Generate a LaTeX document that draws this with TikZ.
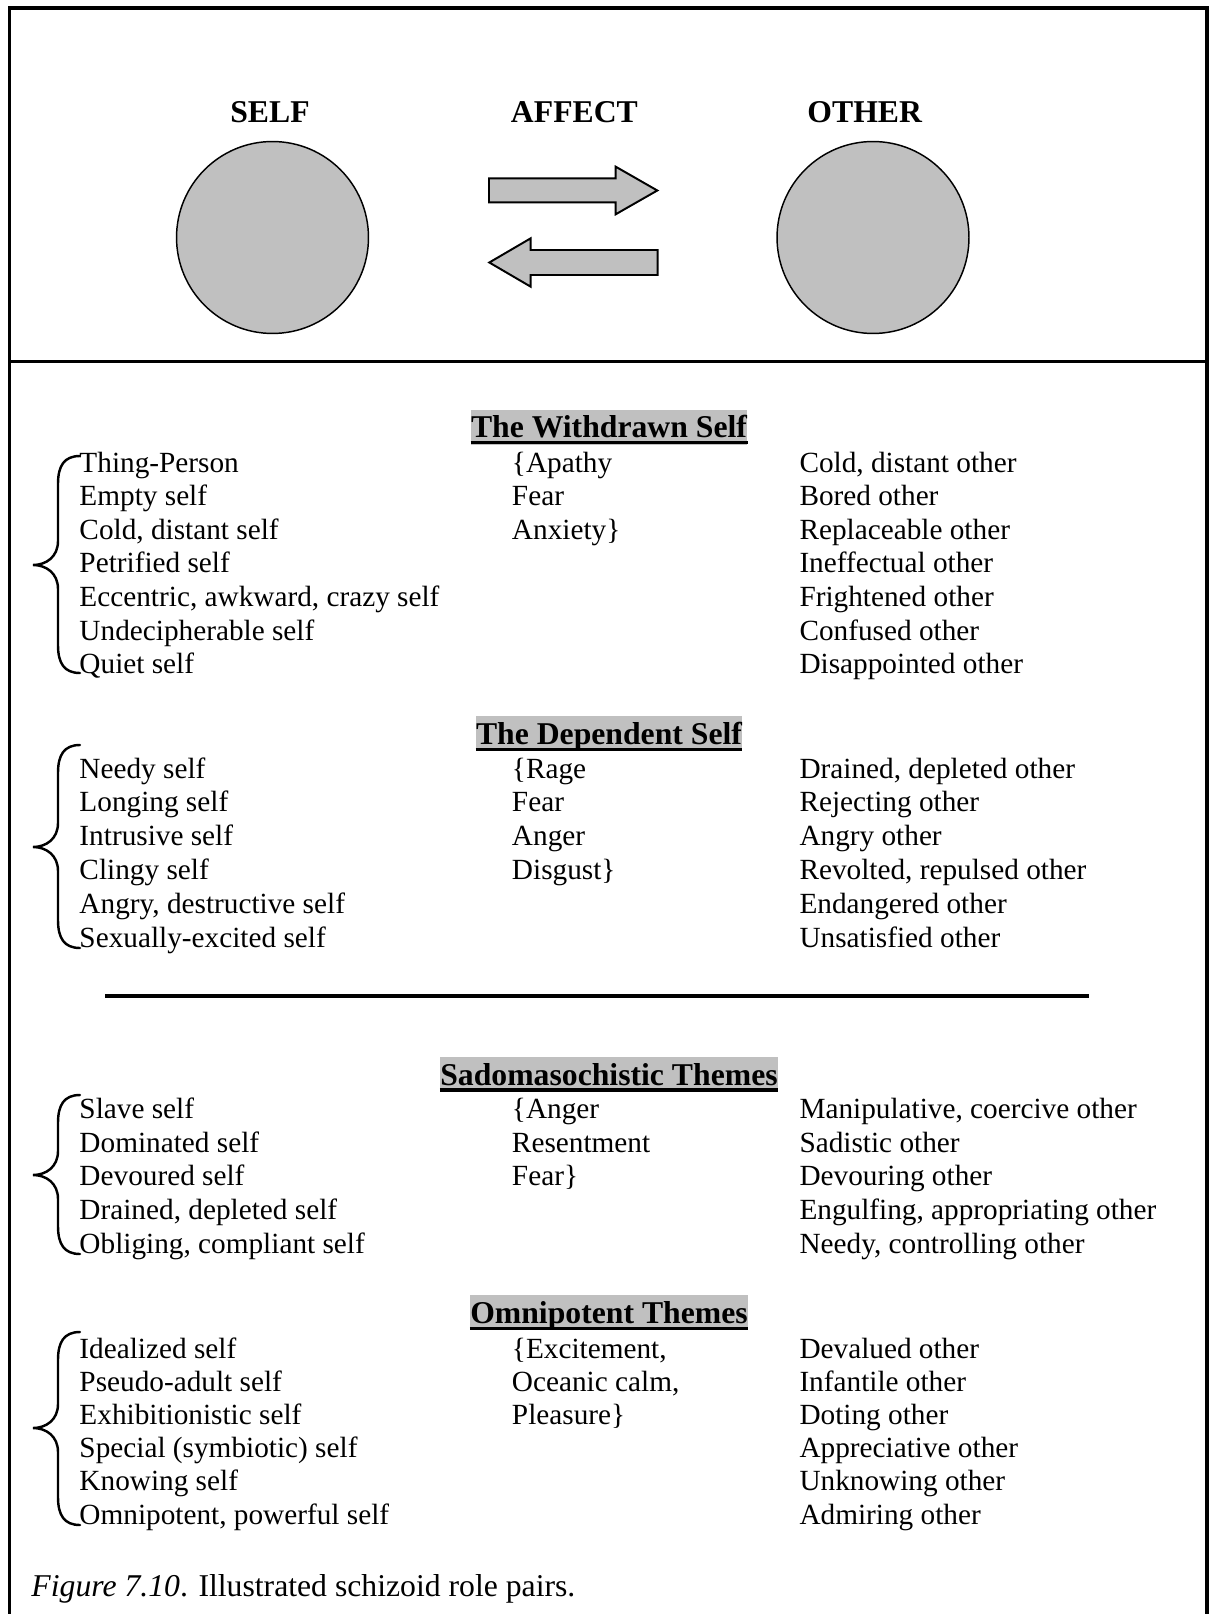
\documentclass[tikz,border=0pt]{standalone}
\usepackage{fontspec}
\setmainfont{Liberation Serif}
\definecolor{hlgray}{HTML}{C0C0C0}
\newcommand\drawcurly[3]{% top y, tip y, bottom y of a left curly brace
  \draw[curlyline] (80,#1) .. controls (64,#1) and (58,#1+10) .. (58,#1+28)
    -- (58,#2-24) .. controls (58,#2-8) and (46,#2) .. (33,#2)
    .. controls (46,#2) and (58,#2+8) .. (58,#2+24)
    -- (58,#3-28) .. controls (58,#3-10) and (64,#3) .. (80,#3);}
\begin{document}
\begin{tikzpicture}[x=0.41pt,y=-0.41pt,
  frame/.style={line width=1.25pt},
  ball/.style={circle, draw=black, line width=0.6pt, fill=hlgray, inner sep=0pt, minimum size=78.7pt},
  blockarrow/.style={draw=black, line width=0.8pt, fill=hlgray, line join=miter},
  toplabel/.style={anchor=base, inner sep=0pt, font=\fontsize{13}{15}\selectfont\bfseries},
  head/.style={anchor=base, inner sep=0pt, fill=hlgray, text height=11.58pt, text depth=2.81pt,
    font=\fontsize{13}{15}\selectfont\bfseries},
  item/.style={anchor=base west, inner sep=0pt, font=\fontsize{12}{13.8}\selectfont},
  capt/.style={anchor=base west, inner sep=0pt, font=\fontsize{13}{15}\selectfont},
  curlyline/.style={line width=1pt, line cap=round},
  rule/.style={line width=2pt}]
\useasboundingbox (0,0) rectangle (1209,1614);
\fill[white] (0,0) rectangle (1209,1614);

% outer frame and divider
\draw[frame] (9.5,1614) -- (9.5,8) -- (1207,8) -- (1207,1614);
\draw[frame] (9.5,361.5) -- (1207,361.5);

% top panel: self, affect, other
\node[toplabel] (selflbl) at (270,122.5) {SELF};
\node[toplabel] (affectlbl) at (574.4,122.5) {AFFECT};
\node[toplabel] (otherlbl) at (864.7,122.5) {OTHER};
\node[ball] (self) at (272.5,237.5) {};
\node[ball] (other) at (873,237.5) {};
\draw[blockarrow] (489,178.3) -- (615.7,178.3) -- (615.7,166.7) -- (657.3,190.5)
  -- (615.7,214.3) -- (615.7,202.3) -- (489,202.3) -- cycle;
\draw[blockarrow] (657.7,250) -- (530.7,250) -- (530.7,238.3) -- (489.3,262.5)
  -- (530.7,286.7) -- (530.7,275) -- (657.7,275) -- cycle;

% headings
\foreach \name/\y/\txt in {h1/438/The Withdrawn Self, h2/744.6/The Dependent Self,
    h3/1085.3/Sadomasochistic Themes, h4/1323.5/Omnipotent Themes} {
  \node[head] (\name) at (609,\y) {\txt};
  \draw[line width=1.3pt] ([yshift=-1.9pt]\name.base west) -- ([yshift=-1.9pt]\name.base east);
}

% The Withdrawn Self
\foreach \t [count=\i] in {Thing-Person, Empty self, {Cold, distant self}, Petrified self,
    {Eccentric, awkward, crazy self}, Undecipherable self, Quiet self}
  \node[item] (wa\i) at (79,{472.5+33.5*(\i-1)}) {\t};
\foreach \t [count=\i] in {\{Apathy, Fear, Anxiety\}}
  \node[item] (wb\i) at (511.5,{472.5+33.5*(\i-1)}) {\t};
\foreach \t [count=\i] in {{Cold, distant other}, Bored other, Replaceable other, Ineffectual other,
    Frightened other, Confused other, Disappointed other}
  \node[item] (wc\i) at (799,{472.5+33.5*(\i-1)}) {\t};
\drawcurly{456}{565}{673}

% The Dependent Self
\foreach \t [count=\i] in {Needy self, Longing self, Intrusive self, Clingy self,
    {Angry, destructive self}, Sexually-excited self}
  \node[item] (da\i) at (79,{778+33.8*(\i-1)}) {\t};
\foreach \t [count=\i] in {\{Rage, Fear, Anger, Disgust\}}
  \node[item] (db\i) at (511.5,{778+33.8*(\i-1)}) {\t};
\foreach \t [count=\i] in {{Drained, depleted other}, Rejecting other, Angry other,
    {Revolted, repulsed other}, Endangered other, Unsatisfied other}
  \node[item] (dc\i) at (799,{778+33.8*(\i-1)}) {\t};
\drawcurly{745}{847}{948}

% separating rule
\draw[rule] (105,996) -- (1088.5,996);

% Sadomasochistic Themes
\foreach \t [count=\i] in {Slave self, Dominated self, Devoured self, {Drained, depleted self},
    {Obliging, compliant self}}
  \node[item] (sa\i) at (79,{1118.3+33.7*(\i-1)}) {\t};
\foreach \t [count=\i] in {\{Anger, Resentment, Fear\}}
  \node[item] (sb\i) at (511.5,{1118.3+33.7*(\i-1)}) {\t};
\foreach \t [count=\i] in {{Manipulative, coercive other}, Sadistic other, Devouring other,
    {Engulfing, appropriating other}, {Needy, controlling other}}
  \node[item] (sc\i) at (799,{1118.3+33.7*(\i-1)}) {\t};
\drawcurly{1095}{1175}{1254}

% Omnipotent Themes
\foreach \t [count=\i] in {Idealized self, Pseudo-adult self, Exhibitionistic self,
    Special (symbiotic) self, Knowing self, {Omnipotent, powerful self}}
  \node[item] (oa\i) at (79,{1358+33.2*(\i-1)}) {\t};
\foreach \t [count=\i] in {{\{Excitement,}, {Oceanic calm,}, Pleasure\}}
  \node[item] (ob\i) at (511.5,{1358+33.2*(\i-1)}) {\t};
\foreach \t [count=\i] in {Devalued other, Infantile other, Doting other, Appreciative other,
    Unknowing other, Admiring other}
  \node[item] (oc\i) at (799,{1358+33.2*(\i-1)}) {\t};
\drawcurly{1332}{1428}{1525}

% caption
\node[capt] (caption) at (31,1596) {\textit{Figure 7.10}. Illustrated schizoid role pairs.};
\end{tikzpicture}
\end{document}
